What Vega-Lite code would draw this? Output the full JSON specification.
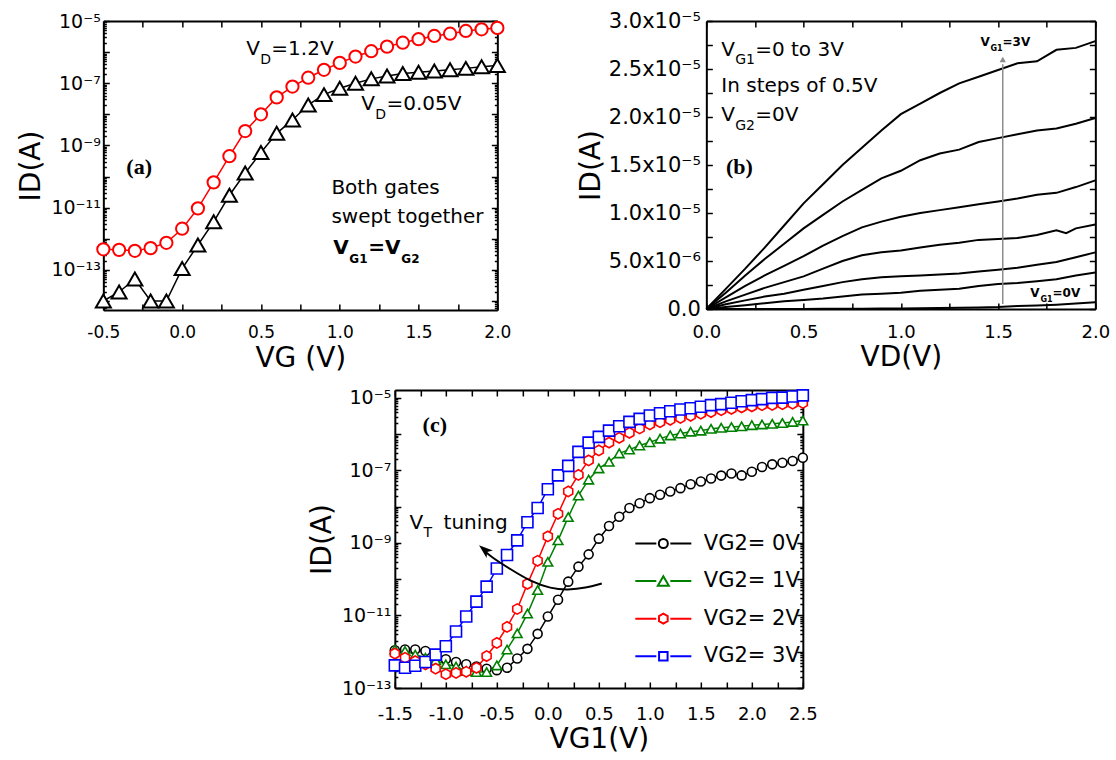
{
  "$schema": "https://vega.github.io/schema/vega-lite/v6.json",
  "background": "white",
  "padding": {"left": 17, "top": 10, "right": 5, "bottom": 5},
  "center": true,
  "spacing": 14,
  "config": {
    "font": "DejaVu Sans",
    "view": {"stroke": null},
    "axis": {
      "domainColor": "black", "domainWidth": 2, "tickColor": "black", "tickWidth": 1.5, "tickSize": -6,
      "labelColor": "black", "titleColor": "black", "labelFont": "DejaVu Sans", "titleFont": "DejaVu Sans",
      "titleFontWeight": "normal", "titleFontSize": 28, "labelFontSize": 18, "grid": false,
      "labelOverlap": false, "labelFlush": false, "labelBound": false
    },
    "text": {"font": "DejaVu Sans", "align": "left", "baseline": "alphabetic", "color": "black"}
  },
  "datasets": {
    "a": [
      {"x": -0.5, "y": 4.6e-13, "vd": "1.2V"}, {"x": -0.4, "y": 4.4e-13, "vd": "1.2V"}, {"x": -0.3, "y": 4.1e-13, "vd": "1.2V"}, {"x": -0.2, "y": 5.0e-13, "vd": "1.2V"}, {"x": -0.1, "y": 7.4e-13, "vd": "1.2V"}, {"x": 0, "y": 2.1e-12, "vd": "1.2V"}, {"x": 0.1, "y": 9.5e-12, "vd": "1.2V"}, {"x": 0.2, "y": 6.5e-11, "vd": "1.2V"}, {"x": 0.3, "y": 4.5e-10, "vd": "1.2V"}, {"x": 0.4, "y": 2.9e-9, "vd": "1.2V"}, {"x": 0.5, "y": 1.0e-8, "vd": "1.2V"}, {"x": 0.6, "y": 3.5e-8, "vd": "1.2V"}, {"x": 0.7, "y": 7.8e-8, "vd": "1.2V"}, {"x": 0.8, "y": 1.5e-7, "vd": "1.2V"}, {"x": 0.9, "y": 2.7e-7, "vd": "1.2V"}, {"x": 1.0, "y": 4.5e-7, "vd": "1.2V"}, {"x": 1.1, "y": 7.2e-7, "vd": "1.2V"}, {"x": 1.2, "y": 1.07e-6, "vd": "1.2V"}, {"x": 1.3, "y": 1.5e-6, "vd": "1.2V"}, {"x": 1.4, "y": 2.0e-6, "vd": "1.2V"}, {"x": 1.5, "y": 2.6e-6, "vd": "1.2V"}, {"x": 1.6, "y": 3.3e-6, "vd": "1.2V"}, {"x": 1.7, "y": 3.9e-6, "vd": "1.2V"}, {"x": 1.8, "y": 4.8e-6, "vd": "1.2V"}, {"x": 1.9, "y": 5.4e-6, "vd": "1.2V"}, {"x": 2.0, "y": 6.0e-6, "vd": "1.2V"},
      {"x": -0.5, "y": 1.0e-14, "vd": "0.05V"}, {"x": -0.4, "y": 1.95e-14, "vd": "0.05V"}, {"x": -0.3, "y": 5.1e-14, "vd": "0.05V"}, {"x": -0.2, "y": 1.0e-14, "vd": "0.05V"}, {"x": -0.1, "y": 1.0e-14, "vd": "0.05V"}, {"x": 0, "y": 1.1e-13, "vd": "0.05V"}, {"x": 0.1, "y": 6.3e-13, "vd": "0.05V"}, {"x": 0.2, "y": 3.5e-12, "vd": "0.05V"}, {"x": 0.3, "y": 2.5e-11, "vd": "0.05V"}, {"x": 0.4, "y": 1.3e-10, "vd": "0.05V"}, {"x": 0.5, "y": 5.9e-10, "vd": "0.05V"}, {"x": 0.6, "y": 2.45e-9, "vd": "0.05V"}, {"x": 0.7, "y": 6.6e-9, "vd": "0.05V"}, {"x": 0.8, "y": 2.0e-8, "vd": "0.05V"}, {"x": 0.9, "y": 4.3e-8, "vd": "0.05V"}, {"x": 1.0, "y": 6.9e-8, "vd": "0.05V"}, {"x": 1.1, "y": 1.0e-7, "vd": "0.05V"}, {"x": 1.2, "y": 1.38e-7, "vd": "0.05V"}, {"x": 1.3, "y": 1.7e-7, "vd": "0.05V"}, {"x": 1.4, "y": 2.04e-7, "vd": "0.05V"}, {"x": 1.5, "y": 2.24e-7, "vd": "0.05V"}, {"x": 1.6, "y": 2.45e-7, "vd": "0.05V"}, {"x": 1.7, "y": 2.7e-7, "vd": "0.05V"}, {"x": 1.8, "y": 3.0e-7, "vd": "0.05V"}, {"x": 1.9, "y": 3.4e-7, "vd": "0.05V"}, {"x": 2.0, "y": 3.7e-7, "vd": "0.05V"}
    ],
    "b": [
      {"x": 0, "y": 0, "vg1": "3V"}, {"x": 0.1, "y": 0.21e-5, "vg1": "3V"}, {"x": 0.2, "y": 0.42e-5, "vg1": "3V"}, {"x": 0.3, "y": 0.64e-5, "vg1": "3V"}, {"x": 0.4, "y": 0.87e-5, "vg1": "3V"}, {"x": 0.5, "y": 1.10e-5, "vg1": "3V"}, {"x": 0.6, "y": 1.30e-5, "vg1": "3V"}, {"x": 0.7, "y": 1.50e-5, "vg1": "3V"}, {"x": 0.8, "y": 1.68e-5, "vg1": "3V"}, {"x": 0.9, "y": 1.86e-5, "vg1": "3V"}, {"x": 1.0, "y": 2.03e-5, "vg1": "3V"}, {"x": 1.1, "y": 2.14e-5, "vg1": "3V"}, {"x": 1.2, "y": 2.25e-5, "vg1": "3V"}, {"x": 1.3, "y": 2.35e-5, "vg1": "3V"}, {"x": 1.4, "y": 2.42e-5, "vg1": "3V"}, {"x": 1.5, "y": 2.49e-5, "vg1": "3V"}, {"x": 1.6, "y": 2.56e-5, "vg1": "3V"}, {"x": 1.7, "y": 2.58e-5, "vg1": "3V"}, {"x": 1.8, "y": 2.70e-5, "vg1": "3V"}, {"x": 1.9, "y": 2.72e-5, "vg1": "3V"}, {"x": 2.0, "y": 2.79e-5, "vg1": "3V"},
      {"x": 0, "y": 0, "vg1": "2.5V"}, {"x": 0.1, "y": 0.17e-5, "vg1": "2.5V"}, {"x": 0.2, "y": 0.35e-5, "vg1": "2.5V"}, {"x": 0.3, "y": 0.52e-5, "vg1": "2.5V"}, {"x": 0.4, "y": 0.68e-5, "vg1": "2.5V"}, {"x": 0.5, "y": 0.84e-5, "vg1": "2.5V"}, {"x": 0.6, "y": 0.98e-5, "vg1": "2.5V"}, {"x": 0.7, "y": 1.12e-5, "vg1": "2.5V"}, {"x": 0.8, "y": 1.24e-5, "vg1": "2.5V"}, {"x": 0.9, "y": 1.36e-5, "vg1": "2.5V"}, {"x": 1.0, "y": 1.44e-5, "vg1": "2.5V"}, {"x": 1.1, "y": 1.55e-5, "vg1": "2.5V"}, {"x": 1.2, "y": 1.62e-5, "vg1": "2.5V"}, {"x": 1.3, "y": 1.66e-5, "vg1": "2.5V"}, {"x": 1.4, "y": 1.74e-5, "vg1": "2.5V"}, {"x": 1.5, "y": 1.78e-5, "vg1": "2.5V"}, {"x": 1.6, "y": 1.82e-5, "vg1": "2.5V"}, {"x": 1.7, "y": 1.86e-5, "vg1": "2.5V"}, {"x": 1.8, "y": 1.88e-5, "vg1": "2.5V"}, {"x": 1.9, "y": 1.93e-5, "vg1": "2.5V"}, {"x": 2.0, "y": 1.99e-5, "vg1": "2.5V"},
      {"x": 0, "y": 0, "vg1": "2V"}, {"x": 0.1, "y": 0.12e-5, "vg1": "2V"}, {"x": 0.2, "y": 0.24e-5, "vg1": "2V"}, {"x": 0.3, "y": 0.35e-5, "vg1": "2V"}, {"x": 0.4, "y": 0.45e-5, "vg1": "2V"}, {"x": 0.5, "y": 0.55e-5, "vg1": "2V"}, {"x": 0.6, "y": 0.66e-5, "vg1": "2V"}, {"x": 0.7, "y": 0.76e-5, "vg1": "2V"}, {"x": 0.8, "y": 0.85e-5, "vg1": "2V"}, {"x": 0.9, "y": 0.91e-5, "vg1": "2V"}, {"x": 1.0, "y": 0.96e-5, "vg1": "2V"}, {"x": 1.1, "y": 1.00e-5, "vg1": "2V"}, {"x": 1.2, "y": 1.03e-5, "vg1": "2V"}, {"x": 1.3, "y": 1.06e-5, "vg1": "2V"}, {"x": 1.4, "y": 1.09e-5, "vg1": "2V"}, {"x": 1.5, "y": 1.12e-5, "vg1": "2V"}, {"x": 1.6, "y": 1.15e-5, "vg1": "2V"}, {"x": 1.7, "y": 1.19e-5, "vg1": "2V"}, {"x": 1.8, "y": 1.21e-5, "vg1": "2V"}, {"x": 1.9, "y": 1.27e-5, "vg1": "2V"}, {"x": 2.0, "y": 1.34e-5, "vg1": "2V"},
      {"x": 0, "y": 0, "vg1": "1.5V"}, {"x": 0.1, "y": 0.08e-5, "vg1": "1.5V"}, {"x": 0.2, "y": 0.15e-5, "vg1": "1.5V"}, {"x": 0.3, "y": 0.22e-5, "vg1": "1.5V"}, {"x": 0.4, "y": 0.28e-5, "vg1": "1.5V"}, {"x": 0.5, "y": 0.34e-5, "vg1": "1.5V"}, {"x": 0.6, "y": 0.42e-5, "vg1": "1.5V"}, {"x": 0.7, "y": 0.50e-5, "vg1": "1.5V"}, {"x": 0.8, "y": 0.56e-5, "vg1": "1.5V"}, {"x": 0.9, "y": 0.59e-5, "vg1": "1.5V"}, {"x": 1.0, "y": 0.61e-5, "vg1": "1.5V"}, {"x": 1.1, "y": 0.64e-5, "vg1": "1.5V"}, {"x": 1.2, "y": 0.67e-5, "vg1": "1.5V"}, {"x": 1.3, "y": 0.69e-5, "vg1": "1.5V"}, {"x": 1.4, "y": 0.72e-5, "vg1": "1.5V"}, {"x": 1.5, "y": 0.73e-5, "vg1": "1.5V"}, {"x": 1.6, "y": 0.74e-5, "vg1": "1.5V"}, {"x": 1.7, "y": 0.77e-5, "vg1": "1.5V"}, {"x": 1.8, "y": 0.82e-5, "vg1": "1.5V"}, {"x": 1.85, "y": 0.79e-5, "vg1": "1.5V"}, {"x": 1.9, "y": 0.84e-5, "vg1": "1.5V"}, {"x": 2.0, "y": 0.88e-5, "vg1": "1.5V"},
      {"x": 0, "y": 0, "vg1": "1V"}, {"x": 0.1, "y": 0.05e-5, "vg1": "1V"}, {"x": 0.2, "y": 0.09e-5, "vg1": "1V"}, {"x": 0.3, "y": 0.13e-5, "vg1": "1V"}, {"x": 0.4, "y": 0.16e-5, "vg1": "1V"}, {"x": 0.5, "y": 0.20e-5, "vg1": "1V"}, {"x": 0.6, "y": 0.24e-5, "vg1": "1V"}, {"x": 0.7, "y": 0.28e-5, "vg1": "1V"}, {"x": 0.8, "y": 0.31e-5, "vg1": "1V"}, {"x": 0.9, "y": 0.33e-5, "vg1": "1V"}, {"x": 1.0, "y": 0.34e-5, "vg1": "1V"}, {"x": 1.1, "y": 0.35e-5, "vg1": "1V"}, {"x": 1.2, "y": 0.36e-5, "vg1": "1V"}, {"x": 1.3, "y": 0.37e-5, "vg1": "1V"}, {"x": 1.4, "y": 0.39e-5, "vg1": "1V"}, {"x": 1.5, "y": 0.41e-5, "vg1": "1V"}, {"x": 1.6, "y": 0.43e-5, "vg1": "1V"}, {"x": 1.7, "y": 0.46e-5, "vg1": "1V"}, {"x": 1.8, "y": 0.49e-5, "vg1": "1V"}, {"x": 1.9, "y": 0.54e-5, "vg1": "1V"}, {"x": 2.0, "y": 0.59e-5, "vg1": "1V"},
      {"x": 0, "y": 0, "vg1": "0.5V"}, {"x": 0.1, "y": 0.02e-5, "vg1": "0.5V"}, {"x": 0.2, "y": 0.04e-5, "vg1": "0.5V"}, {"x": 0.3, "y": 0.06e-5, "vg1": "0.5V"}, {"x": 0.4, "y": 0.08e-5, "vg1": "0.5V"}, {"x": 0.5, "y": 0.095e-5, "vg1": "0.5V"}, {"x": 0.6, "y": 0.11e-5, "vg1": "0.5V"}, {"x": 0.7, "y": 0.13e-5, "vg1": "0.5V"}, {"x": 0.8, "y": 0.15e-5, "vg1": "0.5V"}, {"x": 0.9, "y": 0.16e-5, "vg1": "0.5V"}, {"x": 1.0, "y": 0.17e-5, "vg1": "0.5V"}, {"x": 1.1, "y": 0.19e-5, "vg1": "0.5V"}, {"x": 1.2, "y": 0.20e-5, "vg1": "0.5V"}, {"x": 1.3, "y": 0.21e-5, "vg1": "0.5V"}, {"x": 1.4, "y": 0.24e-5, "vg1": "0.5V"}, {"x": 1.5, "y": 0.26e-5, "vg1": "0.5V"}, {"x": 1.6, "y": 0.27e-5, "vg1": "0.5V"}, {"x": 1.7, "y": 0.29e-5, "vg1": "0.5V"}, {"x": 1.8, "y": 0.31e-5, "vg1": "0.5V"}, {"x": 1.9, "y": 0.35e-5, "vg1": "0.5V"}, {"x": 2.0, "y": 0.38e-5, "vg1": "0.5V"},
      {"x": 0, "y": 0, "vg1": "0V"}, {"x": 0.1, "y": 0, "vg1": "0V"}, {"x": 0.2, "y": 0, "vg1": "0V"}, {"x": 0.3, "y": 0, "vg1": "0V"}, {"x": 0.4, "y": 0.001e-5, "vg1": "0V"}, {"x": 0.5, "y": 0.001e-5, "vg1": "0V"}, {"x": 0.6, "y": 0.002e-5, "vg1": "0V"}, {"x": 0.7, "y": 0.002e-5, "vg1": "0V"}, {"x": 0.8, "y": 0.003e-5, "vg1": "0V"}, {"x": 0.9, "y": 0.004e-5, "vg1": "0V"}, {"x": 1.0, "y": 0.005e-5, "vg1": "0V"}, {"x": 1.1, "y": 0.007e-5, "vg1": "0V"}, {"x": 1.2, "y": 0.010e-5, "vg1": "0V"}, {"x": 1.3, "y": 0.012e-5, "vg1": "0V"}, {"x": 1.4, "y": 0.015e-5, "vg1": "0V"}, {"x": 1.5, "y": 0.020e-5, "vg1": "0V"}, {"x": 1.6, "y": 0.030e-5, "vg1": "0V"}, {"x": 1.7, "y": 0.037e-5, "vg1": "0V"}, {"x": 1.8, "y": 0.045e-5, "vg1": "0V"}, {"x": 1.9, "y": 0.057e-5, "vg1": "0V"}, {"x": 2.0, "y": 0.070e-5, "vg1": "0V"}
    ],
    "c": [
      {"x": -1.5, "y": 1.1e-12, "vg2": "VG2= 0V"}, {"x": -1.4, "y": 1.15e-12, "vg2": "VG2= 0V"}, {"x": -1.3, "y": 1.15e-12, "vg2": "VG2= 0V"}, {"x": -1.2, "y": 1.05e-12, "vg2": "VG2= 0V"}, {"x": -1.1, "y": 7.6e-13, "vg2": "VG2= 0V"}, {"x": -1.0, "y": 6.2e-13, "vg2": "VG2= 0V"}, {"x": -0.9, "y": 5.2e-13, "vg2": "VG2= 0V"}, {"x": -0.8, "y": 4.5e-13, "vg2": "VG2= 0V"}, {"x": -0.7, "y": 3.9e-13, "vg2": "VG2= 0V"}, {"x": -0.6, "y": 3.4e-13, "vg2": "VG2= 0V"}, {"x": -0.5, "y": 3.1e-13, "vg2": "VG2= 0V"}, {"x": -0.4, "y": 3.6e-13, "vg2": "VG2= 0V"}, {"x": -0.3, "y": 6.5e-13, "vg2": "VG2= 0V"}, {"x": -0.2, "y": 1.2e-12, "vg2": "VG2= 0V"}, {"x": -0.1, "y": 3.1e-12, "vg2": "VG2= 0V"}, {"x": 0, "y": 9.3e-12, "vg2": "VG2= 0V"}, {"x": 0.1, "y": 2.7e-11, "vg2": "VG2= 0V"}, {"x": 0.2, "y": 8.5e-11, "vg2": "VG2= 0V"}, {"x": 0.3, "y": 2.2e-10, "vg2": "VG2= 0V"}, {"x": 0.4, "y": 4.8e-10, "vg2": "VG2= 0V"}, {"x": 0.5, "y": 1.3e-9, "vg2": "VG2= 0V"}, {"x": 0.6, "y": 2.9e-9, "vg2": "VG2= 0V"}, {"x": 0.7, "y": 5.2e-9, "vg2": "VG2= 0V"}, {"x": 0.8, "y": 9.1e-9, "vg2": "VG2= 0V"}, {"x": 0.9, "y": 1.23e-8, "vg2": "VG2= 0V"}, {"x": 1.0, "y": 1.7e-8, "vg2": "VG2= 0V"}, {"x": 1.1, "y": 2.1e-8, "vg2": "VG2= 0V"}, {"x": 1.2, "y": 2.6e-8, "vg2": "VG2= 0V"}, {"x": 1.3, "y": 3.2e-8, "vg2": "VG2= 0V"}, {"x": 1.4, "y": 4.1e-8, "vg2": "VG2= 0V"}, {"x": 1.5, "y": 4.9e-8, "vg2": "VG2= 0V"}, {"x": 1.6, "y": 5.9e-8, "vg2": "VG2= 0V"}, {"x": 1.7, "y": 7.1e-8, "vg2": "VG2= 0V"}, {"x": 1.8, "y": 8.1e-8, "vg2": "VG2= 0V"}, {"x": 1.9, "y": 7.2e-8, "vg2": "VG2= 0V"}, {"x": 2.0, "y": 9.1e-8, "vg2": "VG2= 0V"}, {"x": 2.1, "y": 1.23e-7, "vg2": "VG2= 0V"}, {"x": 2.2, "y": 1.45e-7, "vg2": "VG2= 0V"}, {"x": 2.3, "y": 1.6e-7, "vg2": "VG2= 0V"}, {"x": 2.4, "y": 1.8e-7, "vg2": "VG2= 0V"}, {"x": 2.5, "y": 2.2e-7, "vg2": "VG2= 0V"},
      {"x": -1.5, "y": 1.15e-12, "vg2": "VG2= 1V"}, {"x": -1.4, "y": 1.05e-12, "vg2": "VG2= 1V"}, {"x": -1.3, "y": 8.3e-13, "vg2": "VG2= 1V"}, {"x": -1.2, "y": 6.8e-13, "vg2": "VG2= 1V"}, {"x": -1.1, "y": 5.8e-13, "vg2": "VG2= 1V"}, {"x": -1.0, "y": 4.5e-13, "vg2": "VG2= 1V"}, {"x": -0.9, "y": 3.9e-13, "vg2": "VG2= 1V"}, {"x": -0.8, "y": 2.95e-13, "vg2": "VG2= 1V"}, {"x": -0.7, "y": 2.75e-13, "vg2": "VG2= 1V"}, {"x": -0.6, "y": 2.75e-13, "vg2": "VG2= 1V"}, {"x": -0.5, "y": 4.2e-13, "vg2": "VG2= 1V"}, {"x": -0.4, "y": 1.15e-12, "vg2": "VG2= 1V"}, {"x": -0.3, "y": 3.2e-12, "vg2": "VG2= 1V"}, {"x": -0.2, "y": 1.12e-11, "vg2": "VG2= 1V"}, {"x": -0.1, "y": 5.0e-11, "vg2": "VG2= 1V"}, {"x": 0, "y": 3.0e-10, "vg2": "VG2= 1V"}, {"x": 0.1, "y": 1.17e-9, "vg2": "VG2= 1V"}, {"x": 0.2, "y": 5.1e-9, "vg2": "VG2= 1V"}, {"x": 0.3, "y": 2.0e-8, "vg2": "VG2= 1V"}, {"x": 0.4, "y": 5.5e-8, "vg2": "VG2= 1V"}, {"x": 0.5, "y": 1.12e-7, "vg2": "VG2= 1V"}, {"x": 0.6, "y": 1.7e-7, "vg2": "VG2= 1V"}, {"x": 0.7, "y": 2.9e-7, "vg2": "VG2= 1V"}, {"x": 0.8, "y": 3.7e-7, "vg2": "VG2= 1V"}, {"x": 0.9, "y": 4.8e-7, "vg2": "VG2= 1V"}, {"x": 1.0, "y": 5.9e-7, "vg2": "VG2= 1V"}, {"x": 1.1, "y": 7.4e-7, "vg2": "VG2= 1V"}, {"x": 1.2, "y": 9.1e-7, "vg2": "VG2= 1V"}, {"x": 1.3, "y": 1.02e-6, "vg2": "VG2= 1V"}, {"x": 1.4, "y": 1.15e-6, "vg2": "VG2= 1V"}, {"x": 1.5, "y": 1.23e-6, "vg2": "VG2= 1V"}, {"x": 1.6, "y": 1.38e-6, "vg2": "VG2= 1V"}, {"x": 1.7, "y": 1.48e-6, "vg2": "VG2= 1V"}, {"x": 1.8, "y": 1.55e-6, "vg2": "VG2= 1V"}, {"x": 1.9, "y": 1.62e-6, "vg2": "VG2= 1V"}, {"x": 2.0, "y": 1.74e-6, "vg2": "VG2= 1V"}, {"x": 2.1, "y": 1.82e-6, "vg2": "VG2= 1V"}, {"x": 2.2, "y": 1.9e-6, "vg2": "VG2= 1V"}, {"x": 2.3, "y": 2.0e-6, "vg2": "VG2= 1V"}, {"x": 2.4, "y": 2.14e-6, "vg2": "VG2= 1V"}, {"x": 2.5, "y": 2.34e-6, "vg2": "VG2= 1V"},
      {"x": -1.5, "y": 8.9e-13, "vg2": "VG2= 2V"}, {"x": -1.4, "y": 6.8e-13, "vg2": "VG2= 2V"}, {"x": -1.3, "y": 5.5e-13, "vg2": "VG2= 2V"}, {"x": -1.2, "y": 4.5e-13, "vg2": "VG2= 2V"}, {"x": -1.1, "y": 3.4e-13, "vg2": "VG2= 2V"}, {"x": -1.0, "y": 2.4e-13, "vg2": "VG2= 2V"}, {"x": -0.9, "y": 2.6e-13, "vg2": "VG2= 2V"}, {"x": -0.8, "y": 2.8e-13, "vg2": "VG2= 2V"}, {"x": -0.7, "y": 3.6e-13, "vg2": "VG2= 2V"}, {"x": -0.6, "y": 7.6e-13, "vg2": "VG2= 2V"}, {"x": -0.5, "y": 1.74e-12, "vg2": "VG2= 2V"}, {"x": -0.4, "y": 4.8e-12, "vg2": "VG2= 2V"}, {"x": -0.3, "y": 1.5e-11, "vg2": "VG2= 2V"}, {"x": -0.2, "y": 7.4e-11, "vg2": "VG2= 2V"}, {"x": -0.1, "y": 3.2e-10, "vg2": "VG2= 2V"}, {"x": 0, "y": 1.5e-9, "vg2": "VG2= 2V"}, {"x": 0.1, "y": 6.3e-9, "vg2": "VG2= 2V"}, {"x": 0.2, "y": 2.6e-8, "vg2": "VG2= 2V"}, {"x": 0.3, "y": 7.4e-8, "vg2": "VG2= 2V"}, {"x": 0.4, "y": 1.86e-7, "vg2": "VG2= 2V"}, {"x": 0.5, "y": 3.5e-7, "vg2": "VG2= 2V"}, {"x": 0.6, "y": 5.75e-7, "vg2": "VG2= 2V"}, {"x": 0.7, "y": 7.8e-7, "vg2": "VG2= 2V"}, {"x": 0.8, "y": 1.07e-6, "vg2": "VG2= 2V"}, {"x": 0.9, "y": 1.41e-6, "vg2": "VG2= 2V"}, {"x": 1.0, "y": 1.82e-6, "vg2": "VG2= 2V"}, {"x": 1.1, "y": 2.1e-6, "vg2": "VG2= 2V"}, {"x": 1.2, "y": 2.45e-6, "vg2": "VG2= 2V"}, {"x": 1.3, "y": 2.75e-6, "vg2": "VG2= 2V"}, {"x": 1.4, "y": 3.16e-6, "vg2": "VG2= 2V"}, {"x": 1.5, "y": 3.6e-6, "vg2": "VG2= 2V"}, {"x": 1.6, "y": 4.0e-6, "vg2": "VG2= 2V"}, {"x": 1.7, "y": 4.5e-6, "vg2": "VG2= 2V"}, {"x": 1.8, "y": 4.9e-6, "vg2": "VG2= 2V"}, {"x": 1.9, "y": 5.4e-6, "vg2": "VG2= 2V"}, {"x": 2.0, "y": 5.75e-6, "vg2": "VG2= 2V"}, {"x": 2.1, "y": 6.2e-6, "vg2": "VG2= 2V"}, {"x": 2.2, "y": 6.3e-6, "vg2": "VG2= 2V"}, {"x": 2.3, "y": 6.6e-6, "vg2": "VG2= 2V"}, {"x": 2.4, "y": 6.8e-6, "vg2": "VG2= 2V"}, {"x": 2.5, "y": 7.1e-6, "vg2": "VG2= 2V"},
      {"x": -1.5, "y": 4.2e-13, "vg2": "VG2= 3V"}, {"x": -1.4, "y": 3.6e-13, "vg2": "VG2= 3V"}, {"x": -1.3, "y": 4.1e-13, "vg2": "VG2= 3V"}, {"x": -1.2, "y": 5.2e-13, "vg2": "VG2= 3V"}, {"x": -1.1, "y": 8.3e-13, "vg2": "VG2= 3V"}, {"x": -1.0, "y": 1.41e-12, "vg2": "VG2= 3V"}, {"x": -0.9, "y": 3.6e-12, "vg2": "VG2= 3V"}, {"x": -0.8, "y": 9.3e-12, "vg2": "VG2= 3V"}, {"x": -0.7, "y": 2.4e-11, "vg2": "VG2= 3V"}, {"x": -0.6, "y": 6.2e-11, "vg2": "VG2= 3V"}, {"x": -0.5, "y": 1.95e-10, "vg2": "VG2= 3V"}, {"x": -0.4, "y": 4.6e-10, "vg2": "VG2= 3V"}, {"x": -0.3, "y": 1.17e-9, "vg2": "VG2= 3V"}, {"x": -0.2, "y": 3.7e-9, "vg2": "VG2= 3V"}, {"x": -0.1, "y": 9.1e-9, "vg2": "VG2= 3V"}, {"x": 0, "y": 3.0e-8, "vg2": "VG2= 3V"}, {"x": 0.1, "y": 7.2e-8, "vg2": "VG2= 3V"}, {"x": 0.2, "y": 1.32e-7, "vg2": "VG2= 3V"}, {"x": 0.3, "y": 3.2e-7, "vg2": "VG2= 3V"}, {"x": 0.4, "y": 5.75e-7, "vg2": "VG2= 3V"}, {"x": 0.5, "y": 8.3e-7, "vg2": "VG2= 3V"}, {"x": 0.6, "y": 1.23e-6, "vg2": "VG2= 3V"}, {"x": 0.7, "y": 1.62e-6, "vg2": "VG2= 3V"}, {"x": 0.8, "y": 2.14e-6, "vg2": "VG2= 3V"}, {"x": 0.9, "y": 2.6e-6, "vg2": "VG2= 3V"}, {"x": 1.0, "y": 3.2e-6, "vg2": "VG2= 3V"}, {"x": 1.1, "y": 3.7e-6, "vg2": "VG2= 3V"}, {"x": 1.2, "y": 4.2e-6, "vg2": "VG2= 3V"}, {"x": 1.3, "y": 4.7e-6, "vg2": "VG2= 3V"}, {"x": 1.4, "y": 5.1e-6, "vg2": "VG2= 3V"}, {"x": 1.5, "y": 5.6e-6, "vg2": "VG2= 3V"}, {"x": 1.6, "y": 6.2e-6, "vg2": "VG2= 3V"}, {"x": 1.7, "y": 6.6e-6, "vg2": "VG2= 3V"}, {"x": 1.8, "y": 7.2e-6, "vg2": "VG2= 3V"}, {"x": 1.9, "y": 7.9e-6, "vg2": "VG2= 3V"}, {"x": 2.0, "y": 8.5e-6, "vg2": "VG2= 3V"}, {"x": 2.1, "y": 9.1e-6, "vg2": "VG2= 3V"}, {"x": 2.2, "y": 9.8e-6, "vg2": "VG2= 3V"}, {"x": 2.3, "y": 1.0e-5, "vg2": "VG2= 3V"}, {"x": 2.4, "y": 1.07e-5, "vg2": "VG2= 3V"}, {"x": 2.5, "y": 1.15e-5, "vg2": "VG2= 3V"}
    ]
  },
  "vconcat": [
    {
      "spacing": 209,
      "bounds": "flush",
      "hconcat": [
        {
          "width": 394, "height": 289,
          "encoding": {
            "x": {"field": "x", "type": "quantitative", "scale": {"domain": [-0.5, 2], "nice": false, "zero": false},
              "axis": {"orient": "bottom", "values": [-0.5, -0.25, 0, 0.25, 0.5, 0.75, 1, 1.25, 1.5, 1.75, 2], "labelExpr": "round(datum.value*4)%2==0 ? (datum.value<0 ? '-' : '') + format(abs(datum.value), '.1f') : ''", "title": "VG (V)", "labelFontSize": 17, "labelPadding": 20, "titlePadding": 4}},
            "y": {"field": "y", "type": "quantitative", "scale": {"type": "log", "domain": [5.13e-15, 1e-5], "nice": false},
              "axis": {"orient": "left", "values": [1e-14, 1e-13, 1e-12, 1e-11, 1e-10, 1e-9, 1e-8, 1e-7, 1e-6, 1e-5], "labelExpr": "abs(log(datum.value)/LN10+5)<0.01 ? '10⁻⁵' : abs(log(datum.value)/LN10+7)<0.01 ? '10⁻⁷' : abs(log(datum.value)/LN10+9)<0.01 ? '10⁻⁹' : abs(log(datum.value)/LN10+11)<0.01 ? '10⁻¹¹' : abs(log(datum.value)/LN10+13)<0.01 ? '10⁻¹³' : ''", "title": "ID(A)", "labelFontSize": 19, "labelPadding": 9, "titlePadding": 5}}
          },
          "layer": [
            {
              "layer": [
                {"data": {"name": "a"}, "mark": {"type": "line", "strokeWidth": 1.5},
                  "encoding": {"color": {"field": "vd", "type": "nominal", "scale": {"domain": ["1.2V", "0.05V"], "range": ["#ff0000", "#000000"]}, "legend": null}}},
                {"data": {"name": "a"}, "mark": {"type": "point", "filled": false, "fill": "white", "strokeWidth": 2, "opacity": 1},
                  "encoding": {
                    "color": {"field": "vd", "type": "nominal", "scale": {"domain": ["1.2V", "0.05V"], "range": ["#ff0000", "#000000"]}, "legend": null},
                    "shape": {"field": "vd", "type": "nominal", "scale": {"domain": ["1.2V", "0.05V"], "range": ["circle", "triangle-up"]}, "legend": null},
                    "size": {"field": "vd", "type": "nominal", "scale": {"domain": ["1.2V", "0.05V"], "range": [150, 225]}, "legend": null}}},
                {"data": {"values": [{"x": 0.407, "y": 8.07e-7, "text": "V"}, {"x": 0.566, "y": 8.07e-7, "text": "=1.2V"}, {"x": 1.137, "y": 1.37e-8, "text": "V"}, {"x": 1.296, "y": 1.37e-8, "text": "=0.05V"}, {"x": 0.947, "y": 2.73e-11, "text": "Both gates"}, {"x": 0.947, "y": 3.2e-12, "text": "swept together"}]},
                  "mark": {"type": "text", "fontSize": 20}, "encoding": {"text": {"field": "text", "type": "nominal"}}},
                {"data": {"values": [{"x": 0.496, "y": 4.14e-7, "text": "D"}, {"x": 1.226, "y": 7.06e-9, "text": "D"}]},
                  "mark": {"type": "text", "fontSize": 14}, "encoding": {"text": {"field": "text", "type": "nominal"}}},
                {"data": {"values": [{"x": 0.959, "y": 3.22e-13, "text": "V"}, {"x": 1.181, "y": 3.22e-13, "text": "=V"}]},
                  "mark": {"type": "text", "fontSize": 20, "fontWeight": "bold"}, "encoding": {"text": {"field": "text", "type": "nominal"}}},
                {"data": {"values": [{"x": 1.061, "y": 1.66e-13, "text": "G1"}, {"x": 1.391, "y": 1.66e-13, "text": "G2"}]},
                  "mark": {"type": "text", "fontSize": 12, "fontWeight": "bold"}, "encoding": {"text": {"field": "text", "type": "nominal"}}},
                {"data": {"values": [{"x": -0.354, "y": 1.2e-10, "text": "(a)"}]},
                  "mark": {"type": "text", "fontSize": 22, "font": "Liberation Serif", "fontWeight": "bold"}, "encoding": {"text": {"field": "text", "type": "nominal"}}}
              ]
            },
            {"data": {"name": "a"}, "mark": {"type": "point", "opacity": 0},
              "encoding": {
                "x": {"field": "x", "type": "quantitative", "scale": {"domain": [-0.5, 2], "nice": false, "zero": false}, "axis": {"orient": "top", "values": [-0.5, -0.25, 0, 0.25, 0.5, 0.75, 1, 1.25, 1.5, 1.75, 2], "labels": false, "title": null}},
                "y": {"field": "y", "type": "quantitative", "scale": {"type": "log", "domain": [5.13e-15, 1e-5], "nice": false}, "axis": {"orient": "right", "values": [1e-14, 1e-13, 1e-12, 1e-11, 1e-10, 1e-9, 1e-8, 1e-7, 1e-6, 1e-5], "labels": false, "title": null}}}},
            {"data": {"name": "a"}, "mark": {"type": "point", "opacity": 0},
              "encoding": {
                "x": {"field": "x", "type": "quantitative", "scale": {"domain": [-0.5, 2], "nice": false, "zero": false}, "axis": null},
                "y": {"field": "y", "type": "quantitative", "scale": {"type": "log", "domain": [5.13e-15, 1e-5], "nice": false}, "axis": {"orient": "left", "values": [6e-15, 7e-15, 8e-15, 9e-15, 2e-14, 3e-14, 4e-14, 5e-14, 6e-14, 7e-14, 8e-14, 9e-14, 2e-13, 3e-13, 4e-13, 5e-13, 6e-13, 7e-13, 8e-13, 9e-13, 2e-12, 3e-12, 4e-12, 5e-12, 6e-12, 7e-12, 8e-12, 9e-12, 2e-11, 3e-11, 4e-11, 5e-11, 6e-11, 7e-11, 8e-11, 9e-11, 2e-10, 3e-10, 4e-10, 5e-10, 6e-10, 7e-10, 8e-10, 9e-10, 2e-9, 3e-9, 4e-9, 5e-9, 6e-9, 7e-9, 8e-9, 9e-9, 2e-8, 3e-8, 4e-8, 5e-8, 6e-8, 7e-8, 8e-8, 9e-8, 2e-7, 3e-7, 4e-7, 5e-7, 6e-7, 7e-7, 8e-7, 9e-7, 2e-6, 3e-6, 4e-6, 5e-6, 6e-6, 7e-6, 8e-6, 9e-6], "labels": false, "title": null, "tickSize": -3, "domain": false}}}},
            {"data": {"name": "a"}, "mark": {"type": "point", "opacity": 0},
              "encoding": {
                "x": {"field": "x", "type": "quantitative", "scale": {"domain": [-0.5, 2], "nice": false, "zero": false}, "axis": null},
                "y": {"field": "y", "type": "quantitative", "scale": {"type": "log", "domain": [5.13e-15, 1e-5], "nice": false}, "axis": {"orient": "right", "values": [6e-15, 7e-15, 8e-15, 9e-15, 2e-14, 3e-14, 4e-14, 5e-14, 6e-14, 7e-14, 8e-14, 9e-14, 2e-13, 3e-13, 4e-13, 5e-13, 6e-13, 7e-13, 8e-13, 9e-13, 2e-12, 3e-12, 4e-12, 5e-12, 6e-12, 7e-12, 8e-12, 9e-12, 2e-11, 3e-11, 4e-11, 5e-11, 6e-11, 7e-11, 8e-11, 9e-11, 2e-10, 3e-10, 4e-10, 5e-10, 6e-10, 7e-10, 8e-10, 9e-10, 2e-9, 3e-9, 4e-9, 5e-9, 6e-9, 7e-9, 8e-9, 9e-9, 2e-8, 3e-8, 4e-8, 5e-8, 6e-8, 7e-8, 8e-8, 9e-8, 2e-7, 3e-7, 4e-7, 5e-7, 6e-7, 7e-7, 8e-7, 9e-7, 2e-6, 3e-6, 4e-6, 5e-6, 6e-6, 7e-6, 8e-6, 9e-6], "labels": false, "title": null, "tickSize": -3, "domain": false}}}}
          ],
          "resolve": {"axis": {"x": "independent", "y": "independent"}}
        },
        {
          "width": 389, "height": 288,
          "encoding": {
            "x": {"field": "x", "type": "quantitative", "scale": {"domain": [0, 2], "nice": false, "zero": false},
              "axis": {"orient": "bottom", "values": [0, 0.25, 0.5, 0.75, 1, 1.25, 1.5, 1.75, 2], "labelExpr": "round(datum.value*4)%2==0 ? format(datum.value, '.1f') : ''", "title": "VD(V)", "labelPadding": 20, "titlePadding": 2}},
            "y": {"field": "y", "type": "quantitative", "scale": {"domain": [0, 3e-5], "nice": false, "zero": false},
              "axis": {"orient": "left", "values": [0, 2.5e-6, 5e-6, 7.5e-6, 1e-5, 1.25e-5, 1.5e-5, 1.75e-5, 2e-5, 2.25e-5, 2.5e-5, 2.75e-5, 3e-5], "labelExpr": "datum.value == 0 ? '0.0' : abs(datum.value - 5e-6) < 1e-9 ? '5.0x10⁻⁶' : round(datum.value/2.5e-6)%2==0 ? format(datum.value*1e5, '.1f') + 'x10⁻⁵' : ''", "title": "ID(A)", "labelFontSize": 21, "labelPadding": 12, "titlePadding": 3}}
          },
          "layer": [
            {
              "layer": [
                {"data": {"name": "b"}, "mark": {"type": "line", "strokeWidth": 2, "color": "black"},
                  "encoding": {"detail": {"field": "vg1", "type": "nominal"}}},
                {"data": {"values": [{"x": 1.524, "y": 5.2e-7, "y2": 2.55e-5}]}, "mark": {"type": "rule", "color": "#8c8c8c", "strokeWidth": 1.5},
                  "encoding": {"y2": {"field": "y2"}}},
                {"data": {"values": [{"x": 1.524, "y": 2.6e-5}]}, "mark": {"type": "point", "shape": "triangle-up", "filled": true, "color": "#8c8c8c", "size": 40, "opacity": 1}},
                {"data": {"values": [{"x": 0.077, "y": 2.634e-5, "text": "V"}, {"x": 0.251, "y": 2.634e-5, "text": "=0 to 3V"}, {"x": 0.077, "y": 2.26e-5, "text": "In steps of 0.5V"}, {"x": 0.077, "y": 1.954e-5, "text": "V"}, {"x": 0.251, "y": 1.954e-5, "text": "=0V"}]},
                  "mark": {"type": "text", "fontSize": 20}, "encoding": {"text": {"field": "text", "type": "nominal"}}},
                {"data": {"values": [{"x": 0.148, "y": 2.55e-5, "text": "G1"}, {"x": 0.148, "y": 1.867e-5, "text": "G2"}]},
                  "mark": {"type": "text", "fontSize": 14}, "encoding": {"text": {"field": "text", "type": "nominal"}}},
                {"data": {"values": [{"x": 1.409, "y": 2.738e-5, "text": "V"}, {"x": 1.523, "y": 2.738e-5, "text": "=3V"}, {"x": 1.665, "y": 1.22e-6, "text": "V"}, {"x": 1.78, "y": 1.22e-6, "text": "=0V"}]},
                  "mark": {"type": "text", "fontSize": 12, "fontWeight": "bold"}, "encoding": {"text": {"field": "text", "type": "nominal"}}},
                {"data": {"values": [{"x": 1.461, "y": 2.686e-5, "text": "G1"}, {"x": 1.718, "y": 7.0e-7, "text": "G1"}]},
                  "mark": {"type": "text", "fontSize": 8, "fontWeight": "bold"}, "encoding": {"text": {"field": "text", "type": "nominal"}}},
                {"data": {"values": [{"x": 0.101, "y": 1.41e-5, "text": "(b)"}]},
                  "mark": {"type": "text", "fontSize": 22, "font": "Liberation Serif", "fontWeight": "bold"}, "encoding": {"text": {"field": "text", "type": "nominal"}}}
              ]
            },
            {"data": {"name": "b"}, "mark": {"type": "point", "opacity": 0},
              "encoding": {
                "x": {"field": "x", "type": "quantitative", "scale": {"domain": [0, 2], "nice": false, "zero": false}, "axis": {"orient": "top", "values": [0, 0.25, 0.5, 0.75, 1, 1.25, 1.5, 1.75, 2], "labels": false, "title": null}},
                "y": {"field": "y", "type": "quantitative", "scale": {"domain": [0, 3e-5], "nice": false, "zero": false}, "axis": {"orient": "right", "values": [0, 2.5e-6, 5e-6, 7.5e-6, 1e-5, 1.25e-5, 1.5e-5, 1.75e-5, 2e-5, 2.25e-5, 2.5e-5, 2.75e-5, 3e-5], "labels": false, "title": null}}}}
          ],
          "resolve": {"axis": {"x": "independent", "y": "independent"}}
        }
      ]
    },
    {
      "width": 408, "height": 298,
      "encoding": {
        "x": {"field": "x", "type": "quantitative", "scale": {"domain": [-1.5, 2.5], "nice": false, "zero": false},
          "axis": {"orient": "bottom", "values": [-1.5, -1.25, -1, -0.75, -0.5, -0.25, 0, 0.25, 0.5, 0.75, 1, 1.25, 1.5, 1.75, 2, 2.25, 2.5], "labelExpr": "round(datum.value*4)%2==0 ? (datum.value<0 ? '-' : '') + format(abs(datum.value), '.1f') : ''", "title": "VG1(V)", "labelPadding": 23, "titlePadding": 2}},
        "y": {"field": "y", "type": "quantitative", "scale": {"type": "log", "domain": [1e-13, 1.62e-5], "nice": false},
          "axis": {"orient": "left", "values": [1e-13, 1e-12, 1e-11, 1e-10, 1e-9, 1e-8, 1e-7, 1e-6, 1e-5], "labelExpr": "abs(log(datum.value)/LN10+5)<0.01 ? '10⁻⁵' : abs(log(datum.value)/LN10+7)<0.01 ? '10⁻⁷' : abs(log(datum.value)/LN10+9)<0.01 ? '10⁻⁹' : abs(log(datum.value)/LN10+11)<0.01 ? '10⁻¹¹' : abs(log(datum.value)/LN10+13)<0.01 ? '10⁻¹³' : ''", "title": "ID(A)", "labelFontSize": 19, "labelPadding": 10, "titlePadding": 5}}
      },
      "layer": [
        {
          "layer": [
            {"data": {"name": "c"}, "mark": {"type": "line", "strokeWidth": 1.5},
              "encoding": {"color": {"field": "vg2", "type": "nominal", "scale": {"domain": ["VG2= 0V", "VG2= 1V", "VG2= 2V", "VG2= 3V"], "range": ["#000000", "#008000", "#ff0000", "#0000ff"]}, "legend": null}}},
            {"data": {"name": "c"}, "mark": {"type": "point", "filled": false, "fill": "white", "strokeWidth": 1.6, "opacity": 1},
              "encoding": {
                "color": {"field": "vg2", "type": "nominal", "scale": {"domain": ["VG2= 0V", "VG2= 1V", "VG2= 2V", "VG2= 3V"], "range": ["#000000", "#008000", "#ff0000", "#0000ff"]}, "legend": null},
                "shape": {"field": "vg2", "type": "nominal", "scale": {"domain": ["VG2= 0V", "VG2= 1V", "VG2= 2V", "VG2= 3V"], "range": ["circle", "triangle-up", "M0,-1L0.866,-0.5L0.866,0.5L0,1L-0.866,0.5L-0.866,-0.5Z", "square"]}, "legend": null},
                "size": {"field": "vg2", "type": "nominal", "scale": {"domain": ["VG2= 0V", "VG2= 1V", "VG2= 2V", "VG2= 3V"], "range": [81, 121, 110, 72]}, "legend": null}}},
            {"data": {"name": "c"}, "mark": {"type": "point", "filled": false, "opacity": 0, "strokeWidth": 2},
              "encoding": {
                "color": {"field": "vg2", "type": "nominal", "scale": {"domain": ["VG2= 0V", "VG2= 1V", "VG2= 2V", "VG2= 3V"], "range": ["#000000", "#008000", "#ff0000", "#0000ff"]},
                  "legend": {"orient": "none", "legendX": 258, "legendY": 143, "title": null, "labelFontSize": 21, "labelFont": "DejaVu Sans", "labelColor": "black", "symbolSize": 100, "symbolStrokeWidth": 2, "labelOffset": 30, "rowPadding": 15.6, "padding": 0}},
                "shape": {"field": "vg2", "type": "nominal", "scale": {"domain": ["VG2= 0V", "VG2= 1V", "VG2= 2V", "VG2= 3V"], "range": ["M-5.6,0H-1.4M1.4,0H5.6M0.9,0A0.9,0.9,0,1,1,-0.9,0A0.9,0.9,0,1,1,0.9,0Z", "M-5.6,0H-1.4M1.4,0H5.6M0,-0.95L1.1,0.95L-1.1,0.95Z", "M-5.6,0H-1.4M1.4,0H5.6M0,-1L0.87,-0.5L0.87,0.5L0,1L-0.87,0.5L-0.87,-0.5Z", "M-5.6,0H-1.4M1.4,0H5.6M-0.85,-0.85H0.85V0.85H-0.85Z"]},
                  "legend": {"orient": "none", "legendX": 258, "legendY": 143, "title": null, "labelFontSize": 21, "labelFont": "DejaVu Sans", "labelColor": "black", "symbolSize": 100, "symbolStrokeWidth": 2, "labelOffset": 30, "rowPadding": 15.6, "padding": 0}}}},
            {"data": {"values": [{"x": 0.529, "y": 7.6e-11}, {"x": 0.372, "y": 5.7e-11}, {"x": 0.196, "y": 5.0e-11}, {"x": 0.029, "y": 5.5e-11}, {"x": -0.168, "y": 8.6e-11}, {"x": -0.364, "y": 1.85e-10}, {"x": -0.561, "y": 4.2e-10}, {"x": -0.622, "y": 6.0e-10}]},
              "mark": {"type": "line", "color": "black", "strokeWidth": 2, "interpolate": "basis"}},
            {"data": {"values": [{"x": -0.622, "y": 6.4e-10}]},
              "mark": {"type": "point", "shape": "M0,-1L0.7,1L0,0.5L-0.7,1Z", "filled": true, "color": "black", "size": 196, "angle": 310, "opacity": 1}},
            {"data": {"values": [{"x": -1.356, "y": 2.33e-9, "text": "V"}, {"x": -1.022, "y": 2.33e-9, "text": "tuning"}]},
              "mark": {"type": "text", "fontSize": 20}, "encoding": {"text": {"field": "text", "type": "nominal"}}},
            {"data": {"values": [{"x": -1.218, "y": 1.4e-9, "text": "T"}]},
              "mark": {"type": "text", "fontSize": 14}, "encoding": {"text": {"field": "text", "type": "nominal"}}},
            {"data": {"values": [{"x": -1.228, "y": 1.16e-6, "text": "(c)"}]},
              "mark": {"type": "text", "fontSize": 22, "font": "Liberation Serif", "fontWeight": "bold"}, "encoding": {"text": {"field": "text", "type": "nominal"}}}
          ],
          "resolve": {"scale": {"color": "independent", "shape": "independent", "size": "independent"}}
        },
        {"data": {"name": "c"}, "mark": {"type": "point", "opacity": 0},
          "encoding": {
            "x": {"field": "x", "type": "quantitative", "scale": {"domain": [-1.5, 2.5], "nice": false, "zero": false}, "axis": {"orient": "top", "values": [-1.5, -1.25, -1, -0.75, -0.5, -0.25, 0, 0.25, 0.5, 0.75, 1, 1.25, 1.5, 1.75, 2, 2.25, 2.5], "labels": false, "title": null}},
            "y": {"field": "y", "type": "quantitative", "scale": {"type": "log", "domain": [1e-13, 1.62e-5], "nice": false}, "axis": {"orient": "right", "values": [1e-13, 1e-12, 1e-11, 1e-10, 1e-9, 1e-8, 1e-7, 1e-6, 1e-5], "labels": false, "title": null}}}},
        {"data": {"name": "c"}, "mark": {"type": "point", "opacity": 0},
          "encoding": {
            "x": {"field": "x", "type": "quantitative", "scale": {"domain": [-1.5, 2.5], "nice": false, "zero": false}, "axis": null},
            "y": {"field": "y", "type": "quantitative", "scale": {"type": "log", "domain": [1e-13, 1.62e-5], "nice": false}, "axis": {"orient": "left", "values": [2e-13, 3e-13, 4e-13, 5e-13, 6e-13, 7e-13, 8e-13, 9e-13, 2e-12, 3e-12, 4e-12, 5e-12, 6e-12, 7e-12, 8e-12, 9e-12, 2e-11, 3e-11, 4e-11, 5e-11, 6e-11, 7e-11, 8e-11, 9e-11, 2e-10, 3e-10, 4e-10, 5e-10, 6e-10, 7e-10, 8e-10, 9e-10, 2e-9, 3e-9, 4e-9, 5e-9, 6e-9, 7e-9, 8e-9, 9e-9, 2e-8, 3e-8, 4e-8, 5e-8, 6e-8, 7e-8, 8e-8, 9e-8, 2e-7, 3e-7, 4e-7, 5e-7, 6e-7, 7e-7, 8e-7, 9e-7, 2e-6, 3e-6, 4e-6, 5e-6, 6e-6, 7e-6, 8e-6, 9e-6], "labels": false, "title": null, "tickSize": -3, "domain": false}}}},
        {"data": {"name": "c"}, "mark": {"type": "point", "opacity": 0},
          "encoding": {
            "x": {"field": "x", "type": "quantitative", "scale": {"domain": [-1.5, 2.5], "nice": false, "zero": false}, "axis": null},
            "y": {"field": "y", "type": "quantitative", "scale": {"type": "log", "domain": [1e-13, 1.62e-5], "nice": false}, "axis": {"orient": "right", "values": [2e-13, 3e-13, 4e-13, 5e-13, 6e-13, 7e-13, 8e-13, 9e-13, 2e-12, 3e-12, 4e-12, 5e-12, 6e-12, 7e-12, 8e-12, 9e-12, 2e-11, 3e-11, 4e-11, 5e-11, 6e-11, 7e-11, 8e-11, 9e-11, 2e-10, 3e-10, 4e-10, 5e-10, 6e-10, 7e-10, 8e-10, 9e-10, 2e-9, 3e-9, 4e-9, 5e-9, 6e-9, 7e-9, 8e-9, 9e-9, 2e-8, 3e-8, 4e-8, 5e-8, 6e-8, 7e-8, 8e-8, 9e-8, 2e-7, 3e-7, 4e-7, 5e-7, 6e-7, 7e-7, 8e-7, 9e-7, 2e-6, 3e-6, 4e-6, 5e-6, 6e-6, 7e-6, 8e-6, 9e-6], "labels": false, "title": null, "tickSize": -3, "domain": false}}}}
      ],
      "resolve": {"axis": {"x": "independent", "y": "independent"}}
    }
  ]
}
